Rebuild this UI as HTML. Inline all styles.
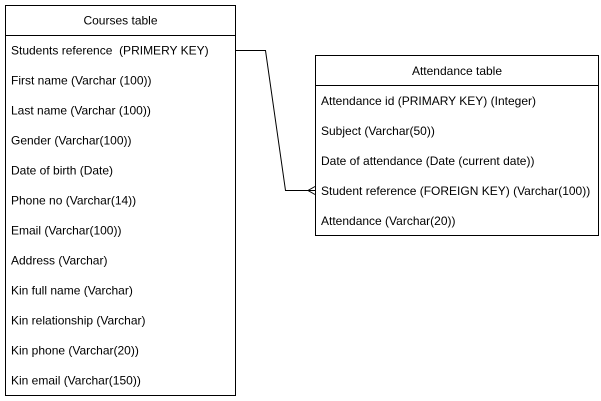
<!DOCTYPE html>
<html><head><style>html,body{margin:0;padding:0;background:#fff}svg{display:block}text{font-family:"Liberation Sans",Arial,sans-serif;font-size:12px;fill:#000}</style></head>
<body>
<svg width="601" height="401" viewBox="0 0 601 401" xmlns="http://www.w3.org/2000/svg">
<rect x="5.5" y="5.5" width="230" height="390" fill="#fff" stroke="#000"/>
<line x1="5.5" y1="35.5" x2="235.5" y2="35.5" stroke="#000"/>
<text x="120.5" y="24.5" text-anchor="middle">Courses table</text>
<g>
<text x="11" y="54.5">Students reference&#160; (PRIMERY KEY)</text>
<text x="11" y="84.5">First name (Varchar (100))</text>
<text x="11" y="114.5">Last name (Varchar (100))</text>
<text x="11" y="144.5">Gender (Varchar(100))</text>
<text x="11" y="174.5">Date of birth (Date)</text>
<text x="11" y="204.5">Phone no (Varchar(14))</text>
<text x="11" y="234.5">Email (Varchar(100))</text>
<text x="11" y="264.5">Address (Varchar)</text>
<text x="11" y="294.5">Kin full name (Varchar)</text>
<text x="11" y="324.5">Kin relationship (Varchar)</text>
<text x="11" y="354.5">Kin phone (Varchar(20))</text>
<text x="11" y="384.5">Kin email (Varchar(150))</text>
</g>
<rect x="315.5" y="55.5" width="283" height="180" fill="#fff" stroke="#000"/>
<line x1="315.5" y1="85.5" x2="598.5" y2="85.5" stroke="#000"/>
<text x="457" y="75" text-anchor="middle">Attendance table</text>
<text x="321" y="105">Attendance id (PRIMARY KEY) (Integer)</text>
<text x="321" y="135">Subject (Varchar(50))</text>
<text x="321" y="165">Date of attendance (Date (current date))</text>
<text x="321" y="195">Student reference (FOREIGN KEY) (Varchar(100))</text>
<text x="321" y="225">Attendance (Varchar(20))</text>
<polyline points="236,50.5 265.5,50.5 285.5,190.5 315,190.5" fill="none" stroke="#000"/>
<polyline points="315,186.5 308,190.5 315,194.5" fill="none" stroke="#000"/>
</svg>
</body></html>
